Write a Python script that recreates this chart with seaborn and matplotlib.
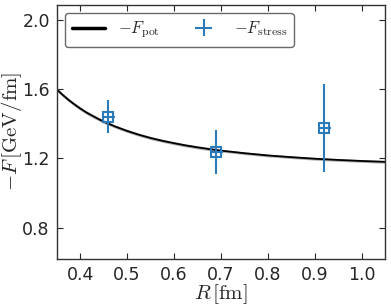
import seaborn as sns
import matplotlib.pyplot as plt
import pandas as pd
import numpy as np

# potential force curve
r_pot = [0.35, 0.3625, 0.375, 0.3875, 0.40, 0.4125, 0.425, 0.4375, 0.45, 0.475, 0.50, 0.525, 0.55,
         0.575, 0.60, 0.625, 0.65, 0.675, 0.70, 0.75, 0.80, 0.85, 0.90, 0.95, 1.00, 1.05]
f_pot = [1.600, 1.568, 1.539, 1.513, 1.489, 1.467, 1.448, 1.430, 1.413, 1.384, 1.359, 1.337, 1.318,
         1.302, 1.288, 1.275, 1.264, 1.254, 1.245, 1.230, 1.217, 1.207, 1.198, 1.191, 1.185, 1.180]
f_pot_err = [0.010] * 9 + [0.009] * 9 + [0.008] * 8

# stress tensor points
r_stress = [0.46, 0.69, 0.92]
f_stress = [1.44, 1.235, 1.375]
f_stress_err = [0.095, 0.127, 0.255]
r_stress_err = [0.014, 0.014, 0.014]

df = pd.DataFrame({"R": r_pot, "F": f_pot})
lo = np.array(f_pot) - np.array(f_pot_err)
hi = np.array(f_pot) + np.array(f_pot_err)

sns.set_style("ticks")
plt.rcParams["mathtext.fontset"] = "cm"
plt.rcParams["font.family"] = "DejaVu Sans"

fig, ax = plt.subplots(figsize=(3.91, 3.05), dpi=100)
ax.fill_between(r_pot, lo, hi, color="#b0b0b0", lw=0)
sns.lineplot(data=df, x="R", y="F", color="black", lw=1.3, ax=ax, label=r"$-F_{\rm pot}$")
ax.errorbar(r_stress, f_stress, yerr=f_stress_err, xerr=r_stress_err, fmt="none",
            ecolor="#2b7bba", elinewidth=1.5, label=r"$-F_{\rm stress}$")
ax.plot(r_stress, f_stress, "s", ms=7, mfc="none", mec="#2b7bba", mew=1.5)

ax.set_xlim(0.35, 1.05)
ax.set_ylim(0.62, 2.09)
ax.set_xticks([0.4, 0.5, 0.6, 0.7, 0.8, 0.9, 1.0])
ax.set_yticks([0.8, 1.2, 1.6, 2.0])
ax.tick_params(direction="in", top=True, right=True, labelsize=12.5, length=4, width=0.8, pad=5)
for s in ax.spines.values():
    s.set_linewidth(1.0)
    s.set_color("#333333")
ax.set_xlabel(r"$R\,[\mathrm{fm}]$", fontsize=15, labelpad=-1)
ax.set_ylabel(r"$-F\,[\mathrm{GeV/fm}]$", fontsize=15, labelpad=-1)
leg = ax.legend(loc="upper left", ncol=2, fontsize=12, frameon=True, fancybox=True,
                edgecolor="#444444", handlelength=2.0, columnspacing=1.6)
leg.get_frame().set_linewidth(1.0)
leg.get_lines()[0].set_linewidth(2.5)
fig.subplots_adjust(left=0.145, right=0.985, top=0.985, bottom=0.152)
fig.savefig("out.png", dpi=100)
